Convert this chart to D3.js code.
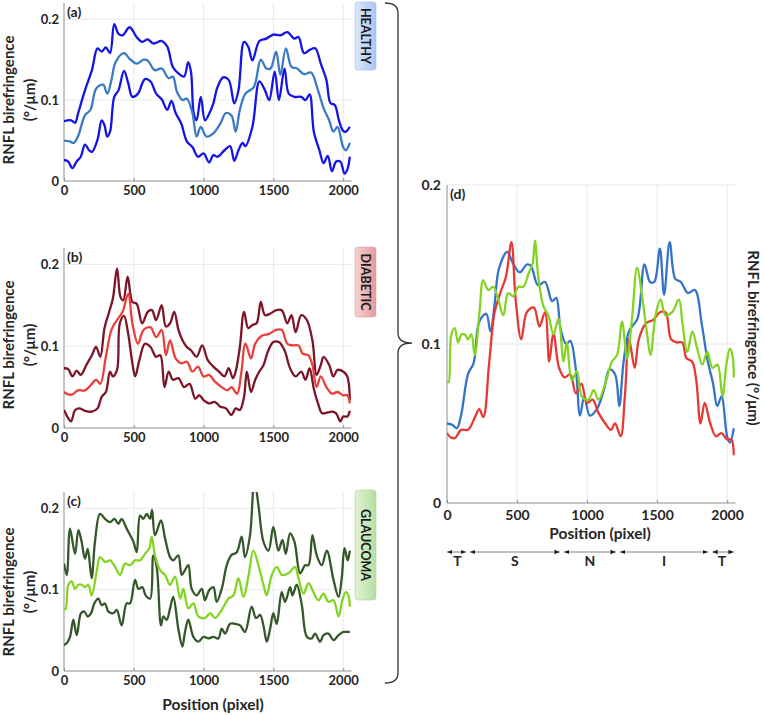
<!DOCTYPE html>
<html><head><meta charset="utf-8">
<script src="https://cdn.jsdelivr.net/npm/d3@7"></script>
<style>html,body{margin:0;padding:0;background:#fff}svg{display:block}</style>
</head><body>
<script>
// ---------------- DATA ----------------
const xTicks = [0, 500, 1000, 1500, 2000];
const yTicks = [0, 0.1, 0.2];
const yTickLabels = ["0", "0.1", "0.2"];
const groups = ["HEALTHY", "DIABETIC", "GLAUCOMA"];
const panelLetters = ["(a)", "(b)", "(c)", "(d)"];
const sectors = ["T", "S", "N", "I", "T"];
const sectorBounds = [[0,150],[150,820],[820,1220],[1220,1880],[1880,2048]];

const healthyUpper = [[0,0.074],[50,0.075],[80,0.072],[100,0.083],[150,0.112],[200,0.137],[240,0.164],[270,0.160],[300,0.165],[330,0.158],[360,0.194],[390,0.182],[420,0.180],[470,0.190],[520,0.178],[560,0.172],[600,0.175],[640,0.170],[700,0.173],[740,0.166],[780,0.141],[820,0.133],[860,0.129],[890,0.147],[910,0.135],[930,0.083],[950,0.075],[980,0.104],[1010,0.075],[1040,0.083],[1070,0.096],[1100,0.116],[1140,0.128],[1180,0.125],[1220,0.096],[1250,0.112],[1290,0.172],[1320,0.166],[1350,0.149],[1400,0.173],[1450,0.176],[1500,0.181],[1550,0.180],[1600,0.184],[1650,0.176],[1680,0.178],[1720,0.158],[1760,0.162],[1800,0.164],[1840,0.145],[1880,0.125],[1910,0.096],[1940,0.094],[1970,0.075],[2000,0.062],[2020,0.061],[2048,0.067]];
const healthyMean = [[0,0.050],[40,0.049],[70,0.047],[100,0.055],[150,0.081],[190,0.088],[230,0.114],[280,0.119],[310,0.108],[340,0.125],[370,0.147],[430,0.158],[470,0.151],[520,0.145],[570,0.150],[600,0.149],[650,0.137],[700,0.139],[750,0.127],[780,0.129],[810,0.110],[850,0.100],[880,0.102],[920,0.084],[950,0.055],[980,0.067],[1020,0.055],[1070,0.059],[1120,0.071],[1160,0.084],[1200,0.081],[1230,0.061],[1260,0.088],[1300,0.108],[1360,0.116],[1410,0.150],[1450,0.139],[1480,0.139],[1520,0.160],[1550,0.131],[1590,0.164],[1630,0.141],[1670,0.139],[1720,0.132],[1770,0.134],[1820,0.112],[1860,0.090],[1900,0.075],[1930,0.061],[1960,0.067],[2000,0.042],[2020,0.038],[2048,0.047]];
const healthyLower = [[0,0.026],[30,0.024],[60,0.016],[90,0.024],[120,0.030],[150,0.045],[180,0.038],[200,0.036],[240,0.051],[270,0.075],[290,0.069],[310,0.055],[330,0.061],[360,0.104],[390,0.112],[430,0.136],[460,0.121],[490,0.104],[530,0.108],[580,0.126],[620,0.123],[660,0.108],[700,0.101],[740,0.088],[770,0.099],[800,0.084],[840,0.071],[880,0.049],[920,0.042],[960,0.030],[1000,0.034],[1040,0.023],[1070,0.032],[1100,0.030],[1150,0.038],[1190,0.043],[1220,0.025],[1250,0.038],[1280,0.047],[1300,0.043],[1350,0.067],[1400,0.123],[1440,0.112],[1470,0.100],[1510,0.135],[1540,0.100],[1580,0.139],[1610,0.108],[1650,0.104],[1700,0.104],[1730,0.100],[1760,0.107],[1790,0.061],[1830,0.038],[1860,0.022],[1890,0.031],[1920,0.012],[1950,0.024],[1980,0.024],[2010,0.009],[2030,0.014],[2048,0.030]];

const diabeticUpper = [[0,0.073],[30,0.072],[60,0.063],[90,0.070],[120,0.065],[160,0.077],[200,0.089],[230,0.099],[260,0.087],[290,0.122],[320,0.140],[350,0.158],[380,0.195],[405,0.160],[425,0.156],[456,0.185],[490,0.154],[520,0.152],[560,0.128],[600,0.142],[630,0.144],[660,0.132],[700,0.150],[730,0.124],[760,0.128],[790,0.142],[820,0.120],[850,0.107],[880,0.099],[910,0.095],[950,0.087],[990,0.101],[1030,0.083],[1070,0.075],[1110,0.069],[1150,0.063],[1180,0.073],[1210,0.061],[1230,0.069],[1260,0.099],[1290,0.142],[1320,0.122],[1350,0.126],[1380,0.128],[1410,0.154],[1440,0.138],[1480,0.140],[1520,0.144],[1560,0.144],[1600,0.128],[1630,0.138],[1660,0.117],[1700,0.138],[1740,0.132],[1780,0.107],[1810,0.065],[1840,0.077],[1860,0.087],[1900,0.077],[1930,0.063],[1960,0.071],[2000,0.069],[2030,0.063],[2048,0.034]];
const diabeticMean = [[0,0.044],[30,0.041],[60,0.041],[100,0.046],[150,0.046],[200,0.054],[230,0.059],[260,0.054],[300,0.087],[340,0.120],[380,0.132],[420,0.142],[460,0.164],[490,0.128],[530,0.103],[570,0.120],[620,0.123],[660,0.111],[700,0.120],[730,0.089],[760,0.107],[800,0.085],[840,0.079],[880,0.081],[920,0.069],[960,0.075],[1000,0.063],[1040,0.065],[1080,0.057],[1130,0.050],[1170,0.046],[1200,0.050],[1240,0.042],[1270,0.067],[1300,0.103],[1340,0.085],[1370,0.103],[1420,0.113],[1470,0.115],[1520,0.120],[1560,0.120],[1600,0.103],[1640,0.101],[1680,0.101],[1710,0.091],[1750,0.089],[1780,0.077],[1810,0.050],[1840,0.063],[1880,0.050],[1920,0.042],[1960,0.044],[2000,0.040],[2030,0.040],[2048,0.030]];
const diabeticLower = [[0,0.022],[30,0.012],[50,0.008],[80,0.022],[110,0.024],[150,0.021],[200,0.020],[240,0.024],[270,0.038],[300,0.044],[330,0.069],[350,0.063],[380,0.071],[400,0.128],[430,0.137],[460,0.115],[490,0.079],[510,0.063],[540,0.083],[580,0.103],[620,0.099],[660,0.087],[690,0.089],[720,0.050],[750,0.069],[780,0.059],[820,0.061],[860,0.050],[900,0.054],[940,0.036],[970,0.040],[1000,0.034],[1040,0.030],[1080,0.032],[1120,0.026],[1160,0.024],[1200,0.016],[1230,0.024],[1260,0.022],[1290,0.038],[1310,0.069],[1340,0.044],[1370,0.059],[1400,0.069],[1430,0.077],[1460,0.093],[1500,0.105],[1540,0.105],[1580,0.095],[1620,0.073],[1660,0.063],[1700,0.069],[1730,0.059],[1760,0.073],[1790,0.048],[1820,0.030],[1850,0.018],[1890,0.019],[1920,0.020],[1950,0.018],[1980,0.008],[2000,0.014],[2030,0.014],[2048,0.021]];

const glaucomaUpper = [[0,0.132],[20,0.118],[43,0.175],[79,0.144],[103,0.173],[125,0.160],[150,0.138],[170,0.150],[198,0.114],[222,0.159],[258,0.193],[294,0.187],[330,0.183],[361,0.187],[390,0.181],[413,0.187],[449,0.175],[497,0.159],[521,0.146],[545,0.191],[568,0.187],[593,0.193],[617,0.187],[631,0.198],[652,0.167],[695,0.185],[724,0.163],[760,0.140],[783,0.136],[819,0.142],[843,0.118],[867,0.124],[891,0.130],[915,0.101],[951,0.093],[987,0.101],[1010,0.087],[1039,0.099],[1070,0.103],[1094,0.085],[1130,0.101],[1166,0.130],[1197,0.142],[1238,0.146],[1273,0.165],[1297,0.140],[1333,0.167],[1364,0.235],[1393,0.204],[1429,0.159],[1465,0.148],[1500,0.177],[1536,0.148],[1565,0.161],[1589,0.144],[1620,0.169],[1651,0.159],[1692,0.120],[1728,0.130],[1752,0.130],[1780,0.167],[1811,0.142],[1847,0.130],[1883,0.148],[1931,0.112],[1967,0.091],[1990,0.114],[2010,0.151],[2033,0.136],[2048,0.148]];
const glaucomaMean = [[0,0.077],[12,0.076],[31,0.106],[55,0.110],[79,0.101],[103,0.106],[127,0.106],[150,0.103],[174,0.106],[198,0.093],[234,0.122],[258,0.140],[294,0.134],[330,0.136],[366,0.128],[402,0.118],[437,0.132],[473,0.130],[509,0.136],[545,0.136],[581,0.144],[612,0.151],[628,0.165],[652,0.142],[688,0.124],[724,0.118],[760,0.106],[796,0.116],[832,0.089],[855,0.101],[891,0.077],[927,0.083],[963,0.067],[1010,0.065],[1047,0.071],[1082,0.065],[1130,0.075],[1178,0.089],[1214,0.093],[1250,0.114],[1286,0.091],[1321,0.116],[1357,0.148],[1393,0.130],[1429,0.106],[1453,0.093],[1489,0.118],[1525,0.128],[1561,0.118],[1608,0.120],[1656,0.128],[1680,0.114],[1716,0.095],[1752,0.108],[1787,0.097],[1823,0.087],[1859,0.095],[1895,0.085],[1931,0.087],[1967,0.067],[1995,0.087],[2019,0.097],[2038,0.093],[2048,0.079]];
const glaucomaLower = [[0,0.032],[19,0.034],[43,0.042],[67,0.063],[91,0.044],[122,0.071],[146,0.073],[170,0.067],[194,0.071],[217,0.083],[246,0.089],[270,0.081],[294,0.083],[318,0.073],[354,0.071],[378,0.075],[413,0.056],[449,0.083],[473,0.083],[509,0.112],[533,0.101],[562,0.103],[585,0.093],[617,0.089],[640,0.142],[664,0.128],[695,0.056],[712,0.067],[736,0.063],[760,0.077],[783,0.091],[819,0.052],[848,0.030],[867,0.048],[891,0.063],[927,0.042],[963,0.036],[999,0.042],[1034,0.040],[1070,0.042],[1106,0.040],[1130,0.052],[1154,0.046],[1190,0.058],[1226,0.058],[1262,0.056],[1297,0.048],[1345,0.079],[1376,0.065],[1405,0.069],[1429,0.056],[1453,0.036],[1477,0.052],[1500,0.071],[1524,0.058],[1560,0.097],[1584,0.085],[1620,0.103],[1637,0.093],[1668,0.106],[1704,0.081],[1740,0.042],[1775,0.040],[1799,0.046],[1835,0.036],[1859,0.044],[1895,0.046],[1931,0.038],[1967,0.044],[2002,0.048],[2026,0.048],[2048,0.048]];

// ---------------- STYLE / LAYOUT ----------------
const FONT = "Lato, 'Open Sans', sans-serif";
const TXT = "#262626";
const GRID = "#e8e8e8";
const AXIS = "#8f8f8f";
const colors = {
  hOut: "#1414e6", hMean: "#3b7ac6",
  dOut: "#7d1528", dMean: "#e8413c",
  gOut: "#35582b", gMean: "#84d424"
};

const svg = d3.select("body").append("svg").attr("width", 764).attr("height", 715)
  .style("font-family", FONT);

const defs = svg.append("defs");
function grad(id, c1, c2) {
  const g = defs.append("linearGradient").attr("id", id).attr("x1", "0").attr("x2", "1").attr("y1", "0").attr("y2", "0");
  g.append("stop").attr("offset", "0").attr("stop-color", c1);
  g.append("stop").attr("offset", "1").attr("stop-color", c2);
}
grad("gH", "#dbe8fb", "#a9c6f2");
grad("gD", "#f6d3d3", "#e29a9a");
grad("gG", "#e3f2d8", "#b7dea0");

const line = (x, y) => d3.line().x(d => x(d[0])).y(d => y(d[1])).curve(d3.curveCatmullRom.alpha(0.5));

function drawPanel(opt) {
  const x = d3.scaleLinear().domain([0, 2060]).range([opt.left, opt.right]);
  const y = d3.scaleLinear().domain([0, opt.ymax]).range([opt.bottom, opt.top]);
  const g = svg.append("g");
  const clipId = "clip" + opt.id;
  defs.append("clipPath").attr("id", clipId).append("rect")
    .attr("x", opt.left).attr("y", opt.top).attr("width", opt.right - opt.left).attr("height", opt.bottom - opt.top);
  // grid
  g.selectAll(".vg").data(xTicks.filter(d => d > 0)).join("line")
    .attr("x1", d => x(d)).attr("x2", d => x(d)).attr("y1", opt.top).attr("y2", opt.bottom)
    .attr("stroke", GRID).attr("stroke-width", 1);
  g.selectAll(".hg").data(yTicks.filter(d => d > 0)).join("line")
    .attr("x1", opt.left).attr("x2", opt.right).attr("y1", d => y(d)).attr("y2", d => y(d))
    .attr("stroke", GRID).attr("stroke-width", 1);
  // axes
  const xAxis = d3.axisBottom(x).tickValues(xTicks).tickSize(-3).tickPadding(opt.xpad).tickFormat(d3.format("d"));
  const ax = g.append("g").attr("transform", `translate(0,${opt.bottom})`).call(xAxis);
  ax.select(".domain").attr("d", `M${opt.left},0H${opt.right}`).attr("stroke", AXIS);
  ax.selectAll(".tick line").attr("stroke", AXIS);
  ax.selectAll("text").attr("fill", TXT).style("font-size", opt.fs + "px").style("font-weight", 700).style("font-family", FONT);
  const yAxis = d3.axisLeft(y).tickValues(yTicks).tickSize(0).tickPadding(opt.ypad).tickFormat((d, i) => yTickLabels[i]);
  const ay = g.append("g").attr("transform", `translate(${opt.left},0)`).call(yAxis);
  ay.select(".domain").attr("d", `M0,${opt.top}V${opt.bottom}`).attr("stroke", AXIS);
  ay.selectAll("text").attr("fill", TXT).style("font-size", opt.fs + "px").style("font-weight", 700).style("font-family", FONT);
  // lines
  const lg = g.append("g").attr("clip-path", `url(#${clipId})`);
  opt.series.forEach(s => {
    lg.append("path").datum(s.data).attr("d", line(x, y)).attr("fill", "none")
      .attr("stroke", s.color).attr("stroke-width", 2.3).attr("stroke-linejoin", "round");
  });
  // panel letter
  g.append("text").attr("x", opt.left + 3).attr("y", opt.top + 14).text(opt.letter)
    .attr("fill", TXT).style("font-size", "14px").style("font-weight", 700);
  return {x, y};
}

const small = [
  {id: "a", top: 3, bottom: 181, lab: 100, tag: [2, 70], tagFill: "url(#gH)", tagStroke: "#9dbbe8",
   series: [{data: healthyUpper, color: colors.hOut}, {data: healthyLower, color: colors.hOut}, {data: healthyMean, color: colors.hMean}]},
  {id: "b", top: 248, bottom: 428, lab: 345, tag: [247, 317], tagFill: "url(#gD)", tagStroke: "#dc9a9a",
   series: [{data: diabeticUpper, color: colors.dOut}, {data: diabeticLower, color: colors.dOut}, {data: diabeticMean, color: colors.dMean}]},
  {id: "c", top: 492, bottom: 671, lab: 592, tag: [490, 600], tagFill: "url(#gG)", tagStroke: "#b0d49a",
   series: [{data: glaucomaUpper, color: colors.gOut}, {data: glaucomaLower, color: colors.gOut}, {data: glaucomaMean, color: colors.gMean}]}
];

small.forEach((p, i) => {
  drawPanel({id: p.id, left: 64, right: 351.5, top: p.top, bottom: p.bottom, ymax: 0.22,
    xpad: 5, ypad: 5, fs: 13, letter: panelLetters[i], series: p.series});
  // y label (two lines)
  svg.append("text").attr("transform", `translate(14,${p.lab}) rotate(-90)`).attr("text-anchor", "middle")
    .text("RNFL birefringence").attr("fill", TXT).style("font-size", "15px").style("font-weight", 700);
  svg.append("text").attr("transform", `translate(35,${p.lab}) rotate(-90)`).attr("text-anchor", "middle")
    .text("(°/μm)").attr("fill", TXT).style("font-size", "15px").style("font-weight", 700);
  // tag
  svg.append("rect").attr("x", 355).attr("y", p.tag[0]).attr("width", 21).attr("height", p.tag[1] - p.tag[0])
    .attr("rx", 3).attr("fill", p.tagFill).attr("stroke", p.tagStroke).attr("stroke-width", 0.6);
  svg.append("text").attr("transform", `translate(361,${(p.tag[0] + p.tag[1]) / 2}) rotate(90)`)
    .attr("text-anchor", "middle").text(groups[i]).attr("fill", "#1a1a1a")
    .style("font-size", "12.5px").style("font-weight", 700);
});

svg.append("text").attr("x", 213).attr("y", 710).attr("text-anchor", "middle").text("Position (pixel)")
  .attr("fill", TXT).style("font-size", "15.5px").style("font-weight", 700);

// bracket
svg.append("path")
  .attr("d", "M385,3 Q398,3 398,13 L398,333 Q398,343 412,343 Q398,343 398,353 L398,673 Q398,683 385,683")
  .attr("fill", "none").attr("stroke", "#333").attr("stroke-width", 1.3);

// panel d
const pd = drawPanel({id: "d", left: 447, right: 735.5, top: 185, bottom: 503, ymax: 0.2,
  xpad: 7, ypad: 6, fs: 14, letter: panelLetters[3],
  series: [{data: healthyMean, color: "#3573c9"}, {data: diabeticMean, color: "#e53935"}, {data: glaucomaMean, color: "#84d424"}]});

svg.append("text").attr("x", 600).attr("y", 539).attr("text-anchor", "middle").text("Position (pixel)")
  .attr("fill", TXT).style("font-size", "15.5px").style("font-weight", 700);
svg.append("text").attr("transform", "translate(748,338) rotate(90)").attr("text-anchor", "middle")
  .text("RNFL birefringence (°/μm)").attr("fill", TXT).style("font-size", "15px").style("font-weight", 700);

// sector arrows
const ay0 = 552;
defs.append("marker").attr("id", "arr").attr("viewBox", "0 0 10 10").attr("refX", 10).attr("refY", 5)
  .attr("markerWidth", 6).attr("markerHeight", 6).attr("orient", "auto-start-reverse")
  .append("path").attr("d", "M0,1 L10,5 L0,9 Z").attr("fill", "#222");
sectors.forEach((s, i) => {
  const [a, b] = sectorBounds[i];
  const x1 = pd.x(a) + (i === 0 ? 0 : 2), x2 = pd.x(b) - (i === sectors.length - 1 ? 0 : 2);
  svg.append("line").attr("x1", x1).attr("x2", x2).attr("y1", ay0).attr("y2", ay0)
    .attr("stroke", "#777").attr("stroke-width", 0.9)
    .attr("marker-start", "url(#arr)").attr("marker-end", "url(#arr)");
  svg.append("text").attr("x", pd.x((a + b) / 2)).attr("y", ay0 + 14).attr("text-anchor", "middle").text(s)
    .attr("fill", TXT).style("font-size", "14px").style("font-weight", 700);
});
</script>
</body></html>
